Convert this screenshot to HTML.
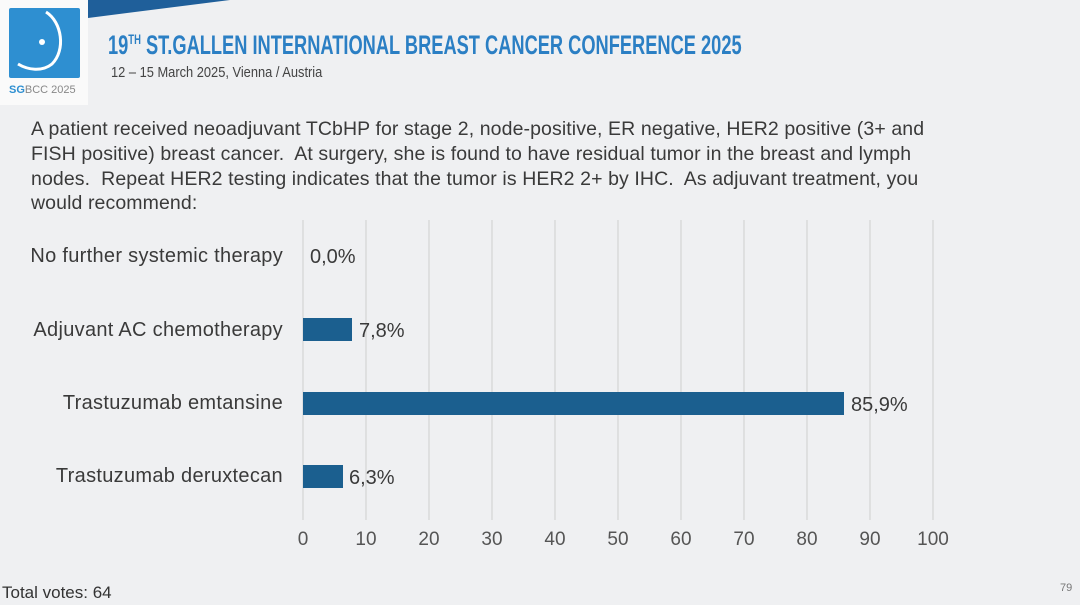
<!DOCTYPE html>
<html><head><style>
body{margin:0;width:1080px;height:605px;background:#eff0f2;position:relative;overflow:hidden;font-family:"Liberation Sans",sans-serif;}
.a{position:absolute;white-space:nowrap;}
.q{left:31px;top:117px;font-size:19.5px;line-height:24.8px;color:#3a3a3a;letter-spacing:0.1px;}
.lab{font-size:20px;color:#3a3a3a;right:797px;letter-spacing:0.3px;}
.val{font-size:20px;color:#3a3a3a;}
.tick{font-size:19px;color:#555;top:529px;width:40px;text-align:center;}
</style></head><body>
<svg class="a" style="left:0;top:0" width="1080" height="605">
<polygon points="88,0 230,0 88,18" fill="#1f5f9a"/>
<rect x="0" y="0" width="88" height="105" fill="#fafafa"/>
<rect x="9" y="8" width="71" height="70" rx="2" fill="#2e8fd1"/>
<path d="M46,12 C62,22 66,50 52,64 C42,72 28,70 18,64" stroke="#fff" stroke-width="3" fill="none"/>
<circle cx="42" cy="42" r="3" fill="#fff"/>
<g stroke="#d4d4d4" stroke-width="1.2">
<line x1="303" y1="220" x2="303" y2="520"/><line x1="366" y1="220" x2="366" y2="520"/><line x1="429" y1="220" x2="429" y2="520"/><line x1="492" y1="220" x2="492" y2="520"/><line x1="555" y1="220" x2="555" y2="520"/><line x1="618" y1="220" x2="618" y2="520"/><line x1="681" y1="220" x2="681" y2="520"/><line x1="744" y1="220" x2="744" y2="520"/><line x1="807" y1="220" x2="807" y2="520"/><line x1="870" y1="220" x2="870" y2="520"/><line x1="933" y1="220" x2="933" y2="520"/>
</g>
<rect x="303" y="318" width="49" height="23" fill="#1b5f8f"/>
<rect x="303" y="392" width="541" height="23" fill="#1b5f8f"/>
<rect x="303" y="465" width="40" height="23" fill="#1b5f8f"/>
</svg>
<div class="a" style="left:9px;top:84px;font-size:11px;color:#2e8fd1;"><b>SG</b><span style="color:#888">BCC 2025</span></div>
<div class="a" style="left:108px;top:30px;font-size:27px;font-weight:bold;color:#2b7fc4;transform:scaleX(0.676);transform-origin:left;">19<sup style="font-size:14px">TH</sup> ST.GALLEN INTERNATIONAL BREAST CANCER CONFERENCE 2025</div>
<div class="a" style="left:111px;top:64px;font-size:15px;color:#444;transform:scaleX(0.857);transform-origin:left;">12 – 15 March 2025, Vienna / Austria</div>
<div class="a q">A patient received neoadjuvant TCbHP for stage 2, node-positive, ER negative, HER2 positive (3+ and<br>FISH positive) breast cancer.&nbsp; At surgery, she is found to have residual tumor in the breast and lymph<br>nodes.&nbsp; Repeat HER2 testing indicates that the tumor is HER2 2+ by IHC.&nbsp; As adjuvant treatment, you<br>would recommend:</div>
<div class="a lab" style="top:245px">No further systemic therapy</div>
<div class="a lab" style="top:319px">Adjuvant AC chemotherapy</div>
<div class="a lab" style="top:392px">Trastuzumab emtansine</div>
<div class="a lab" style="top:465px">Trastuzumab deruxtecan</div>
<div class="a val" style="left:310px;top:246px">0,0%</div>
<div class="a val" style="left:359px;top:320px">7,8%</div>
<div class="a val" style="left:851px;top:394px">85,9%</div>
<div class="a val" style="left:349px;top:467px">6,3%</div>
<div class="a tick" style="left:283px">0</div><div class="a tick" style="left:346px">10</div><div class="a tick" style="left:409px">20</div><div class="a tick" style="left:472px">30</div><div class="a tick" style="left:535px">40</div><div class="a tick" style="left:598px">50</div><div class="a tick" style="left:661px">60</div><div class="a tick" style="left:724px">70</div><div class="a tick" style="left:787px">80</div><div class="a tick" style="left:850px">90</div><div class="a tick" style="left:913px">100</div>
<div class="a" style="left:2px;top:583px;font-size:17px;color:#333">Total votes: 64</div>
<div class="a" style="left:1060px;top:582px;font-size:11px;color:#777">79</div>
</body></html>
